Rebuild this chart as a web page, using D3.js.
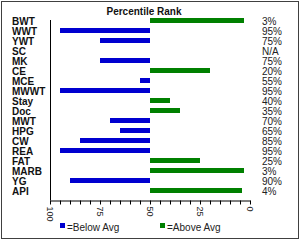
<!DOCTYPE html>
<html>
<head>
<meta charset="utf-8">
<script src="https://cdn.jsdelivr.net/npm/d3@7"></script>
<style>
  html, body { margin: 0; padding: 0; background: #fff; }
  svg { display: block; font-family: "Liberation Sans", Arial, sans-serif; }
</style>
</head>
<body>
<svg id="chart"></svg>
<script>
const width = 300;
const height = 240;

// chart data
const categories = ["BWT", "WWT", "YWT", "SC", "MK", "CE", "MCE", "MWWT", "Stay", "Doc",
    "MWT", "HPG", "CW", "REA", "FAT", "MARB", "YG", "API"];
const percentiles = [3, 95, 75, null, 75, 20, 55, 95, 40, 35, 70, 65, 85, 95, 25, 3, 90, 4];
const rankLabels = ["3%", "95%", "75%", "N/A", "75%", "20%", "55%", "95%", "40%", "35%",
    "70%", "65%", "85%", "95%", "25%", "3%", "90%", "4%"];
const tickValues = [100, 95, 90, 85, 80, 75, 70, 65, 60, 55, 50, 45, 40, 35, 30, 25, 20, 15, 10, 5, 0];
const tickLabels = [100, 75, 50, 25, 0];
const legendItems = ["=Below Avg", "=Above Avg"];

const blue = "#0000d0";
const green = "#008000";

const svg = d3.select("#chart")
    .attr("width", width)
    .attr("height", height);

svg.append("rect")
    .attr("x", 1.5).attr("y", 1.5)
    .attr("width", width - 3).attr("height", height - 3)
    .attr("fill", "#fff")
    .attr("stroke", "#404040");

const x = d3.scaleLinear().domain([100, 0]).range([50, 250]);
const y = d3.scaleBand().domain(categories).range([15.5, 195.5]);

svg.append("text")
    .attr("x", 144).attr("y", 15)
    .attr("text-anchor", "middle")
    .attr("font-size", 10).attr("font-weight", "bold")
    .attr("fill", "#111")
    .text("Percentile Rank");

const rows = categories.map((c, i) => ({ cat: c, value: percentiles[i], label: rankLabels[i] }));

// bars, starting from the 50 line
svg.append("g")
    .selectAll("rect")
    .data(rows.filter(d => d.value !== null))
    .enter().append("rect")
    .attr("x", d => Math.min(x(d.value), x(50)))
    .attr("y", d => y(d.cat) + 2.5)
    .attr("width", d => Math.abs(x(d.value) - x(50)))
    .attr("height", 5)
    .attr("fill", d => d.value > 50 ? blue : green);

// category names
svg.append("g")
    .selectAll("text")
    .data(rows)
    .enter().append("text")
    .attr("x", 12)
    .attr("y", d => y(d.cat) + 9.5)
    .attr("font-size", 10).attr("font-weight", "bold")
    .attr("fill", "#111")
    .text(d => d.cat);

// rank labels on the right
svg.append("g")
    .selectAll("text")
    .data(rows)
    .enter().append("text")
    .attr("x", 262)
    .attr("y", d => y(d.cat) + 9.5)
    .attr("font-size", 10)
    .attr("fill", "#222")
    .text(d => d.label);

// left axis line
svg.append("line")
    .attr("x1", 50.5).attr("x2", 50.5)
    .attr("y1", 20).attr("y2", 200.5)
    .attr("stroke", "#000");

// bottom axis
const xAxis = svg.append("g")
    .attr("transform", "translate(0,200.5)")
    .call(d3.axisBottom(x)
        .tickValues(tickValues)
        .tickSize(4)
        .tickSizeOuter(0)
        .tickFormat(d => tickLabels.includes(d) ? d : ""));
xAxis.select(".domain").attr("stroke", "#000");
xAxis.selectAll(".tick line").attr("stroke", "#000");
xAxis.selectAll(".tick text")
    .attr("font-size", 9)
    .attr("fill", "#222")
    .attr("font-family", "Liberation Sans, Arial, sans-serif")
    .attr("transform", "rotate(90)")
    .attr("x", 6).attr("y", 0)
    .attr("dy", "0.35em")
    .attr("text-anchor", "start");

// legend
const legend = svg.append("g")
    .selectAll("g")
    .data(legendItems)
    .enter().append("g")
    .attr("transform", (d, i) => `translate(${i === 0 ? 60 : 160},223)`);
legend.append("rect")
    .attr("width", 5).attr("height", 5)
    .attr("fill", (d, i) => i === 0 ? blue : green);
legend.append("text")
    .attr("x", 7).attr("y", 8)
    .attr("font-size", 10)
    .attr("fill", "#222")
    .text(d => d);
</script>
</body>
</html>
